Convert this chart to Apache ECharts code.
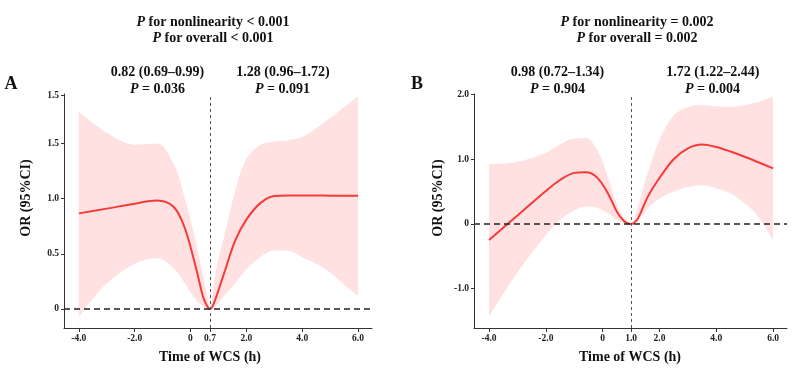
<!DOCTYPE html>
<html><head><meta charset="utf-8">
<script src="https://cdn.jsdelivr.net/npm/echarts@6/dist/echarts.min.js"></script>
<style>html,body{margin:0;padding:0;background:#fff}#c{width:793px;height:369px}</style>
</head><body><div id="c"></div>
<script>
// ---- Panel A data ----
const xA   = [-4, -3, -2, -1.2, -0.6, -0.2, 0.2, 0.45, 0.6, 0.7, 0.8, 0.95, 1.2, 1.6, 2.0, 2.5, 3.0, 3.5, 4, 4.5, 5, 5.5, 6];
const estA = [0.867, 0.91, 0.955, 0.983, 0.925, 0.73, 0.37, 0.11, 0.025, 0, 0.03, 0.13, 0.32, 0.62, 0.81, 0.96, 1.025, 1.03, 1.03, 1.03, 1.027, 1.027, 1.027];
const upA  = [1.79, 1.60, 1.49, 1.50, 1.31, 1.0, 0.60, 0.30, 0.12, 0, 0.14, 0.4, 0.65, 1.07, 1.36, 1.49, 1.52, 1.53, 1.56, 1.64, 1.73, 1.83, 1.93];
const loA  = [-0.073, 0.23, 0.41, 0.46, 0.37, 0.23, 0.08, 0.025, 0.005, 0, 0.005, 0.04, 0.12, 0.23, 0.36, 0.47, 0.53, 0.53, 0.47, 0.41, 0.33, 0.22, 0.118];
const xTicksA = [-4, -2, 0, 0.7, 2, 4, 6];
const xLabelsA = ['-4.0', '-2.0', '0', '0.7', '2.0', '4.0', '6.0'];
const yTicksA = [0, 0.5, 1.0, 1.5, 1.94];
const yLabelsA = ['0', '0.5', '1.0', '1.5', '1.5'];
const knotA = 0.7;

// ---- Panel B data ----
const xB   = [-4, -3, -2, -1.5, -1, -0.6, -0.2, 0.2, 0.5, 0.75, 0.9, 1.0, 1.1, 1.25, 1.6, 2.0, 2.5, 3.0, 3.5, 4, 4.5, 5, 5.5, 6];
const estB = [-0.247, 0.13, 0.51, 0.68, 0.79, 0.80, 0.72, 0.46, 0.19, 0.045, 0.006, 0, 0.015, 0.09, 0.43, 0.71, 1.0, 1.17, 1.23, 1.19, 1.12, 1.04, 0.95, 0.86];
const upB  = [0.92, 0.96, 1.10, 1.23, 1.32, 1.33, 1.15, 0.71, 0.29, 0.09, 0.03, 0, 0.06, 0.27, 0.81, 1.30, 1.68, 1.81, 1.84, 1.82, 1.81, 1.84, 1.89, 1.97];
const loB  = [-1.43, -0.75, -0.175, 0.06, 0.21, 0.27, 0.25, 0.16, 0.06, 0.015, 0.003, 0, 0.008, 0.05, 0.25, 0.39, 0.50, 0.57, 0.60, 0.55, 0.47, 0.32, 0.10, -0.25];
const xTicksB = [-4, -2, 0, 1, 2, 4, 6];
const xLabelsB = ['-4.0', '-2.0', '0', '1.0', '2.0', '4.0', '6.0'];
const yTicksB = [-1, 0, 1, 2];
const yLabelsB = ['-1.0', '0', '1.0', '2.0'];
const knotB = 1.0;

const FONT = '"Liberation Serif","Times New Roman",serif';
const RED = '#f53a3a';
const PINK = '#ffe1e1';
const AXC = '#333';

function lab(ticks, labels) {
  return function (v) {
    for (let i = 0; i < ticks.length; i++) if (Math.abs(ticks[i] - v) < 1e-6) return labels[i];
    return '';
  };
}
function pairs(xs, ys) { return xs.map((x, i) => [x, ys[i]]); }

function xAxisOf(idx, min, max, ticks, labels) {
  return {
    type: 'value', gridIndex: idx, min: min, max: max, z: 10,
    axisLine: { show: true, onZero: false, lineStyle: { color: AXC, width: 1 } },
    axisTick: { show: true, length: 4, customValues: ticks, lineStyle: { color: AXC } },
    axisLabel: { customValues: ticks, formatter: lab(ticks, labels), fontFamily: FONT, fontWeight: 'bold', fontSize: 9.5, color: '#222', margin: 6 },
    splitLine: { show: false }
  };
}
function yAxisOf(idx, min, max, ticks, labels) {
  return {
    type: 'value', gridIndex: idx, min: min, max: max, z: 10,
    axisLine: { show: true, onZero: false, lineStyle: { color: AXC, width: 1 } },
    axisTick: { show: true, length: 3, customValues: ticks, lineStyle: { color: AXC } },
    axisLabel: { customValues: ticks, formatter: lab(ticks, labels), fontFamily: FONT, fontWeight: 'bold', fontSize: 9.5, color: '#222', margin: 5 },
    splitLine: { show: false }
  };
}
function panelSeries(idx, xs, est, lo, up, knot) {
  return [
    // upper CI bound, filled down to axis start
    { type: 'line', xAxisIndex: idx, yAxisIndex: idx, data: pairs(xs, up),
      smooth: 0.35, showSymbol: false, lineStyle: { opacity: 0 }, areaStyle: { color: PINK, opacity: 1, origin: 'start' }, silent: true, z: 1 },
    // lower CI bound, white mask below it
    { type: 'line', xAxisIndex: idx, yAxisIndex: idx, data: pairs(xs, lo),
      smooth: 0.35, showSymbol: false, lineStyle: { opacity: 0 }, areaStyle: { color: '#fff', opacity: 1, origin: 'start' }, silent: true, z: 1 },
    { type: 'line', xAxisIndex: idx, yAxisIndex: idx, data: pairs(xs, est), smooth: 0.35, showSymbol: false,
      lineStyle: { color: RED, width: 2 }, z: 3,
      markLine: { silent: true, symbol: 'none', label: { show: false }, animation: false,
        data: [
          { yAxis: 0, lineStyle: { type: [6, 4], color: '#222', width: 1.5 } },
          { xAxis: knot, lineStyle: { type: [3, 3], color: '#555', width: 1 } }
        ] } }
  ];
}

function ptext(x, y, pre, post, size) {
  return { type: 'text', x: x, y: y, style: {
    text: (pre ? pre : '') + '{i|P}' + post, fill: '#111',
    font: 'bold ' + (size || 14) + 'px ' + FONT, textAlign: 'center', textVerticalAlign: 'middle',
    rich: { i: { fontStyle: 'italic', fontWeight: 'bold', fontSize: size || 14, fontFamily: FONT, fill: '#111' } } } };
}
function txt(x, y, s, size, rot) {
  const o = { type: 'text', x: x, y: y, style: { text: s, fill: '#111', font: 'bold ' + size + 'px ' + FONT,
    textAlign: 'center', textVerticalAlign: 'middle' } };
  if (rot) o.rotation = rot;
  return o;
}

const chart = echarts.init(document.getElementById('c'), null, { renderer: 'canvas' });
chart.setOption({
  animation: false,
  backgroundColor: '#fff',
  grid: [
    { left: 64, right: 421, top: 94, bottom: 41 },
    { left: 474, right: 6, top: 94, bottom: 41 }
  ],
  xAxis: [xAxisOf(0, -4.53, 6.5, xTicksA, xLabelsA), xAxisOf(1, -4.53, 6.49, xTicksB, xLabelsB)],
  yAxis: [yAxisOf(0, -0.173, 1.95, yTicksA, yLabelsA), yAxisOf(1, -1.61, 2.01, yTicksB, yLabelsB)],
  series: [].concat(panelSeries(0, xA, estA, loA, upA, knotA), panelSeries(1, xB, estB, loB, upB, knotB)),
  graphic: [
    ptext(213, 22, '', ' for nonlinearity < 0.001'),
    ptext(213, 38.5, '', ' for overall < 0.001'),
    ptext(637, 22, '', ' for nonlinearity = 0.002'),
    ptext(637, 38.5, '', ' for overall = 0.002'),
    txt(157.5, 72.5, '0.82 (0.69\u20130.99)', 14),
    ptext(157.5, 89, '', ' = 0.036'),
    txt(283, 72.5, '1.28 (0.96\u20131.72)', 14),
    ptext(282.5, 89, '', ' = 0.091'),
    txt(557.5, 72.5, '0.98 (0.72\u20131.34)', 14),
    ptext(557.5, 89, '', ' = 0.904'),
    txt(712.8, 72.5, '1.72 (1.22\u20132.44)', 14),
    ptext(712.5, 89, '', ' = 0.004'),
    txt(11, 84.5, 'A', 18),
    txt(417, 84, 'B', 18),
    txt(26, 198, 'OR (95%CI)', 14, Math.PI / 2),
    txt(438, 198, 'OR (95%CI)', 14, Math.PI / 2),
    txt(210, 357, 'Time of WCS (h)', 14),
    txt(630, 357, 'Time of WCS (h)', 14)
  ]
});
</script></body></html>
